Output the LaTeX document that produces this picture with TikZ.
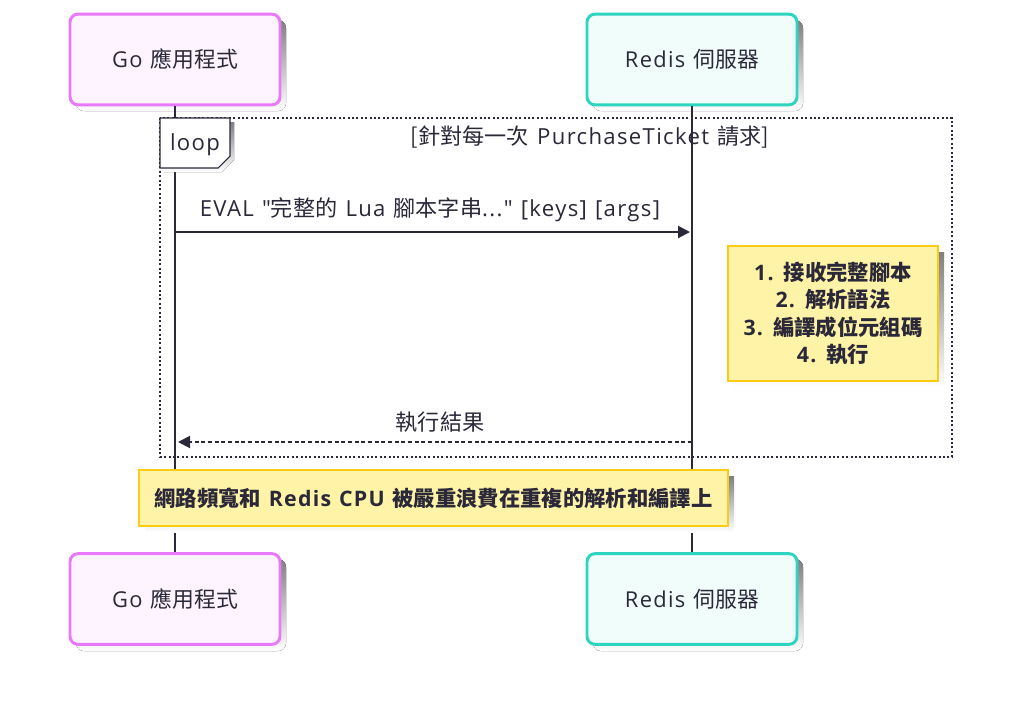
\documentclass[tikz,border=0pt]{standalone}
\usepackage{fontspec}
\setmainfont{Noto Sans CJK TC}
\newfontfamily\lt{Open Sans}[LetterSpace=6, WordSpace=1.15]
\usetikzlibrary{arrows.meta}
\definecolor{ink}{HTML}{2A2839}
\definecolor{pinkb}{HTML}{E879F9}
\definecolor{pinkf}{HTML}{FDF4FF}
\definecolor{tealb}{HTML}{2DD4BF}
\definecolor{tealf}{HTML}{F0FDFA}
\definecolor{noteb}{HTML}{FACC15}
\definecolor{notef}{HTML}{FEF3A6}
\definecolor{shade}{HTML}{EBEBEB}
\tikzset{
  actor/.style={draw, line width=2.2pt, rounded corners=6pt, minimum width=157.5pt, minimum height=68pt, font=\fontsize{16.4}{19}\selectfont, text=ink, inner sep=0pt},
  goactor/.style={actor, draw=pinkb, fill=pinkf},
  rdactor/.style={actor, draw=tealb, fill=tealf},
  lifeline/.style={draw=ink, line width=1.6pt},
  msg/.style={draw=ink, line width=1.5pt, -{Triangle[length=9pt,width=9pt]}},
  reply/.style={msg, dash pattern=on 3pt off 2pt},
  msglabel/.style={font=\fontsize{16.6}{19}\selectfont, text=ink, inner sep=0pt},
  notebox/.style={draw=noteb, fill=notef, line width=1.5pt, text=ink, font=\fontsize{16}{20.3}\selectfont\bfseries, align=center, inner sep=0pt},
}
\begin{document}
\begin{tikzpicture}[x=0.75pt,y=-0.75pt]
\useasboundingbox (0,0) rectangle (1024,704);
% shadows
\fill[shade, rounded corners=6pt] (76,20) rectangle (286,111);
\fill[shade, rounded corners=6pt] (593,20) rectangle (803,111);
\fill[shade, rounded corners=6pt] (76,559) rectangle (286,651);
\fill[shade, rounded corners=6pt] (593,559) rectangle (803,651);
% actors
\node[goactor] (got) at (175,59.5) {{\lt Go }應用程式};
\node[rdactor] (rdt) at (692,59.5) {{\lt Redis }伺服器};
\node[goactor] (gob) at (175,599) {{\lt Go }應用程式};
\node[rdactor] (rdb) at (692,599) {{\lt Redis }伺服器};
% lifelines
\draw[lifeline] (got.south) -- (gob.north);
\draw[lifeline] (rdt.south) -- (rdb.north);
% loop frame
\draw[ink, line width=1.5pt, dash pattern=on 1.5pt off 1.8pt] (160,118) rectangle (952,457);
\fill[shade] (164,122) -- (234,122) -- (234,160) -- (222,172) -- (164,172) -- cycle;
\draw[ink, line width=0.8pt, fill=white] (160,118) -- (230,118) -- (230,156) -- (218,168) -- (160,168) -- cycle;
\node[msglabel] (looplbl) at (195,145) {\lt loop};
\node[msglabel] (looptitle) at (590,137) {[針對每一次{\lt\ PurchaseTicket }請求]};
% message 1
\coordinate (m1s) at (175,232);
\coordinate (m1e) at (690,232);
\draw[msg] (m1s) -- (m1e);
\node[msglabel] (m1l) at (430,210) {{\lt EVAL "}完整的{\lt\ Lua }腳本字串{\lt ..." [keys] [args]}};
% note on redis
\fill[shade] (734,252) rectangle (944,387);
\node[notebox, minimum width=157.5pt, minimum height=101pt] (n1) at (833,313.5) {{\lt 1. }接收完整腳本\\{\lt 2. }解析語法\\{\lt 3. }編譯成位元組碼\\{\lt 4. }執行};
% reply
\coordinate (m2s) at (692,442);
\coordinate (m2e) at (178,442);
\draw[reply] (m2s) -- (m2e);
\node[msglabel] (m2l) at (440,422) {執行結果};
% bottom note
\fill[shade] (145,476) rectangle (734,532);
\node[notebox, minimum width=441.75pt, minimum height=42pt] (n2) at (433.5,498) {網路頻寬和{\lt\ Redis CPU }被嚴重浪費在重複的解析和編譯上};
\end{tikzpicture}
\end{document}
